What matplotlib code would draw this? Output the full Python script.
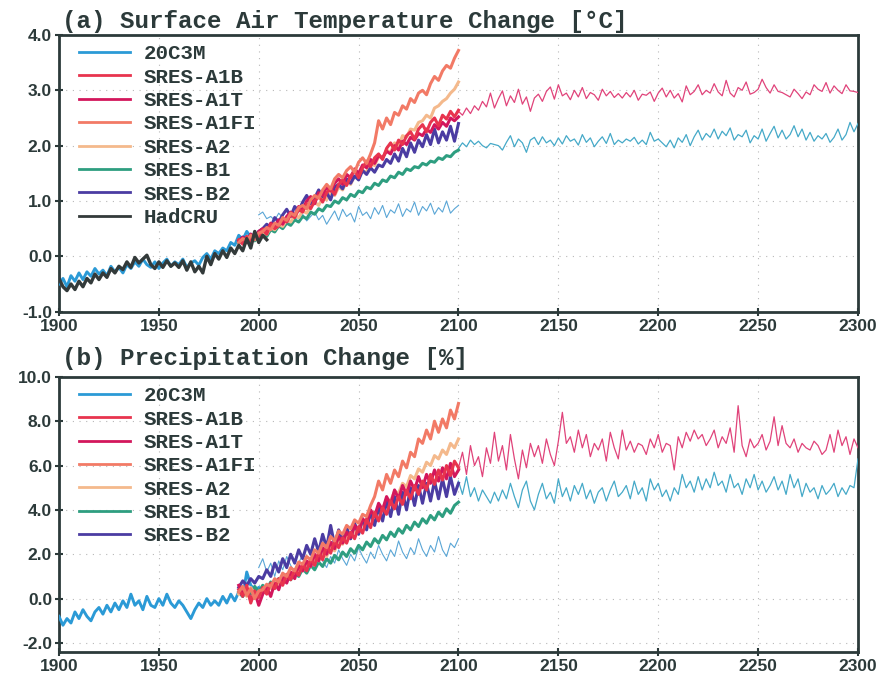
import numpy as np
import matplotlib.pyplot as plt

# ---- data ----
# (a) surface air temperature change [degC]
t_20c3m = [-0.50, -0.40, -0.55, -0.35, -0.45, -0.30, -0.42, -0.28, -0.36, -0.22,
           -0.32, -0.25, -0.35, -0.18, -0.28, -0.20, -0.30, -0.15, -0.22, -0.10,
           -0.18, -0.05, -0.15, -0.20, -0.10, -0.22, -0.12, -0.05, -0.18, -0.10,
           -0.15, -0.05, -0.20, -0.12, -0.08, -0.16, -0.02, 0.05, -0.05, 0.10,
           0.05, 0.15, 0.10, 0.25, 0.20, 0.38, 0.30, 0.45, 0.35, 0.30,
           0.40]
t_hadcru = [-0.40, -0.55, -0.62, -0.50, -0.60, -0.45, -0.55, -0.40, -0.48, -0.32,
            -0.42, -0.30, -0.38, -0.22, -0.30, -0.18, -0.24, -0.10, -0.20, -0.02,
            -0.12, -0.05, 0.02, -0.15, -0.22, -0.10, -0.20, -0.08, -0.18, -0.12,
            -0.20, -0.08, -0.25, -0.10, -0.28, -0.18, -0.30, 0.00, -0.15, 0.05,
            -0.05, 0.10, -0.02, 0.15, 0.05, 0.20, 0.10, 0.32, 0.15, 0.45,
            0.25, 0.38, 0.30]
t_a1b = [0.30, 0.22, 0.36, 0.26, 0.42, 0.35,
         0.48, 0.40, 0.58, 0.50, 0.55, 0.68, 0.62, 0.75, 0.70, 0.85,
         0.80, 0.95, 0.86, 1.00, 1.10, 0.98, 1.15, 1.22, 1.12, 1.30,
         1.38, 1.28, 1.45, 1.55, 1.42, 1.60, 1.72, 1.62, 1.78, 1.85,
         1.75, 1.95, 2.05, 1.92, 2.10, 2.02, 2.18, 2.25, 2.12, 2.30,
         2.38, 2.25, 2.42, 2.50, 2.36, 2.55, 2.48, 2.62, 2.52, 2.64]
t_a1t = [0.28, 0.34, 0.25, 0.40, 0.32, 0.45,
         0.50, 0.44, 0.60, 0.55, 0.66, 0.58, 0.72, 0.80, 0.74, 0.90,
         0.85, 1.00, 1.08, 0.95, 1.15, 1.10, 1.25, 1.18, 1.32, 1.40,
         1.30, 1.48, 1.42, 1.58, 1.50, 1.65, 1.60, 1.75, 1.68, 1.82,
         1.78, 1.90, 1.85, 2.00, 1.92, 2.08, 2.02, 2.15, 2.10, 2.22,
         2.18, 2.30, 2.24, 2.38, 2.30, 2.42, 2.35, 2.50, 2.45, 2.52]
t_a1fi = [0.25, 0.32, 0.28, 0.38, 0.30, 0.42,
          0.45, 0.52, 0.48, 0.60, 0.56, 0.70, 0.65, 0.78, 0.74, 0.88,
          0.92, 0.86, 1.02, 1.10, 1.05, 1.20, 1.30, 1.22, 1.40, 1.48,
          1.42, 1.55, 1.62, 1.52, 1.70, 1.78, 1.68, 1.85, 2.05, 2.45,
          2.30, 2.50, 2.38, 2.60, 2.55, 2.72, 2.66, 2.85, 2.78, 2.95,
          3.00, 2.92, 3.12, 3.25, 3.18, 3.35, 3.45, 3.40, 3.58, 3.72]
t_a2 = [0.26, 0.30, 0.24, 0.36, 0.30, 0.40,
        0.44, 0.40, 0.52, 0.48, 0.58, 0.54, 0.66, 0.62, 0.74, 0.70,
        0.82, 0.78, 0.90, 0.98, 0.92, 1.06, 1.02, 1.15, 1.10, 1.25,
        1.20, 1.35, 1.30, 1.45, 1.42, 1.55, 1.52, 1.68, 1.64, 1.80,
        1.78, 1.92, 1.88, 2.05, 2.00, 2.18, 2.15, 2.30, 2.28, 2.42,
        2.45, 2.55, 2.50, 2.68, 2.72, 2.80, 2.85, 2.95, 3.02, 3.15]
t_b1 = [0.24, 0.30, 0.26, 0.34, 0.28, 0.38,
        0.42, 0.36, 0.48, 0.44, 0.55, 0.50, 0.60, 0.56, 0.66, 0.62,
        0.72, 0.68, 0.80, 0.76, 0.86, 0.82, 0.92, 0.90, 1.00, 0.96,
        1.06, 1.02, 1.12, 1.08, 1.18, 1.15, 1.25, 1.22, 1.32, 1.28,
        1.38, 1.35, 1.45, 1.42, 1.52, 1.48, 1.58, 1.55, 1.62, 1.60,
        1.68, 1.65, 1.72, 1.70, 1.78, 1.75, 1.82, 1.80, 1.88, 1.92]
t_b2 = [0.28, 0.35, 0.30, 0.40, 0.34, 0.45,
        0.50, 0.58, 0.52, 0.70, 0.62, 0.75, 0.85, 0.72, 0.90, 0.82,
        0.98, 1.10, 0.95, 1.05, 1.20, 1.08, 1.15, 1.02, 1.25, 1.30,
        1.22, 1.40, 1.32, 1.45, 1.38, 1.55, 1.48, 1.60, 1.52, 1.65,
        1.62, 1.75, 1.68, 1.85, 1.72, 1.95, 1.80, 2.05, 1.88, 2.10,
        1.98, 2.20, 2.02, 2.30, 2.05, 2.25, 2.10, 2.35, 2.08, 2.40]
t_commit = [0.75, 0.80, 0.68, 0.72, 0.65, 0.78, 0.70, 0.62, 0.74, 0.68,
            0.70, 0.76, 0.64, 0.72, 0.80, 0.66, 0.74, 0.58, 0.70, 0.82,
            0.65, 0.85, 0.72, 0.78, 0.62, 0.90, 0.74, 0.80, 0.68, 0.88,
            0.76, 0.92, 0.70, 0.84, 0.78, 0.95, 0.72, 0.86, 0.80, 0.98,
            0.74, 0.90, 0.82, 0.96, 0.76, 0.88, 0.80, 1.00, 0.78, 0.86,
            0.92]
t_a1b_ext = [2.62, 2.55, 2.68, 2.58, 2.72, 2.64, 2.80, 2.70, 2.95, 2.68, 2.85,
             2.99, 2.72, 2.90, 2.78, 3.02, 2.75, 2.88, 2.62, 2.86, 2.93,
             2.80, 2.98, 3.06, 2.84, 3.10, 2.90, 2.95, 2.83, 3.00, 2.88,
             3.05, 2.85, 2.96, 2.92, 2.82, 3.02, 2.90, 2.98, 2.87, 2.94,
             2.86, 2.96, 2.88, 3.00, 2.82, 2.93, 2.91, 2.97, 2.80, 2.95,
             3.04, 2.88, 3.00, 2.86, 2.94, 2.79, 3.08, 2.92, 2.98, 3.10,
             2.92, 3.00, 2.95, 3.12, 2.97, 2.90, 3.18, 2.95, 2.88, 3.05,
             3.00, 3.15, 2.93, 2.96, 3.02, 3.20, 3.05, 2.95, 3.10, 2.98,
             2.96, 2.92, 2.88, 3.02, 2.94, 2.85, 2.97, 2.92, 3.10, 3.02,
             2.98, 3.14, 2.95, 3.08, 3.00, 2.94, 3.10, 2.99, 2.98, 2.96]
t_b1_ext = [1.95, 2.05, 1.98, 2.10, 2.02, 2.08, 2.00, 1.96, 2.04, 2.02, 2.00,
            1.92, 2.06, 2.18, 1.98, 2.12, 2.05, 1.88, 2.10, 2.15, 2.02,
            2.16, 2.05, 2.10, 2.00, 2.14, 2.03, 2.18, 2.08, 2.12, 2.01,
            2.20, 2.06, 2.14, 1.98, 2.08, 2.16, 2.04, 2.22, 2.02, 2.10,
            2.05, 2.12, 2.08, 2.15, 2.03, 2.10, 2.02, 2.24, 2.08, 2.12,
            2.05, 1.98, 2.10, 1.96, 2.14, 2.06, 2.20, 2.00, 2.16, 2.28,
            2.10, 2.22, 2.15, 2.30, 2.12, 2.26, 2.18, 2.32, 2.10, 2.20,
            2.16, 2.28, 2.05, 2.18, 2.12, 2.30, 2.08, 2.22, 2.35, 2.14,
            2.28, 2.12, 2.20, 2.36, 2.16, 2.30, 2.10, 2.24, 2.08, 2.18,
            2.12, 2.22, 2.06, 2.15, 2.30, 2.10, 2.20, 2.42, 2.25, 2.40]

# (b) precipitation change [%]
p_20c3m = [-0.80, -1.20, -0.90, -1.10, -0.60, -0.90, -0.50, -0.80, -1.00, -0.60,
           -0.40, -0.70, -0.30, -0.60, -0.20, -0.50, -0.10, -0.40, 0.20, -0.30,
           -0.10, -0.50, 0.10, -0.30, -0.40, 0.00, -0.30, 0.20, -0.20, -0.40,
           -0.10, -0.30, -0.60, -0.90, -0.50, -0.20, -0.40, 0.00, -0.30, -0.10,
           -0.30, 0.10, -0.20, 0.20, -0.10, 0.30, 0.10, 1.20, 0.60, 0.40,
           0.50]
p_a1b = [0.40, 0.10, 0.60, -0.20, 0.35, 0.05,
         0.50, 0.20, 0.70, 0.45, 0.90, 0.60, 1.10, 0.85, 1.30, 1.05,
         1.55, 1.25, 1.80, 1.50, 2.10, 1.75, 2.40, 2.05, 2.60, 2.30,
         2.75, 2.50, 3.00, 2.70, 3.25, 2.95, 3.60, 3.20, 3.90, 3.50,
         4.10, 3.80, 4.40, 4.05, 4.60, 4.25, 4.90, 4.50, 5.10, 4.70,
         5.30, 4.90, 5.60, 5.15, 5.80, 5.35, 6.00, 5.55, 6.20, 5.90]
p_a1t = [0.60, 0.20, 0.45, -0.10, 0.30, -0.30,
         0.20, 0.50, 0.10, 0.70, 0.40, 0.95, 0.70, 1.20, 0.90, 1.50,
         1.25, 1.70, 1.45, 2.00, 1.70, 2.30, 2.00, 2.55, 2.25, 2.80,
         2.50, 3.00, 2.75, 3.30, 3.00, 3.60, 3.40, 4.00, 3.70, 4.30,
         4.00, 4.60, 4.25, 4.90, 4.50, 5.10, 4.70, 5.30, 4.90, 5.50,
         5.00, 5.60, 5.20, 5.80, 5.30, 5.90, 5.40, 6.10, 5.50, 5.80]
p_a1fi = [0.30, 0.55, 0.15, 0.45, 0.00, 0.35,
          0.40, 0.65, 0.55, 0.90, 0.75, 1.15, 1.00, 1.40, 1.25, 1.65,
          1.55, 1.90, 1.75, 2.20, 2.05, 2.50, 2.30, 2.80, 2.60, 3.05,
          2.90, 3.30, 3.15, 3.55, 3.40, 3.80, 3.70, 4.20, 4.60, 5.30,
          4.90, 5.60, 5.20, 5.80, 5.50, 6.20, 5.90, 6.60, 6.40, 7.20,
          7.00, 7.60, 7.20, 8.00, 7.50, 8.10, 7.70, 8.50, 8.10, 8.80]
p_a2 = [0.20, 0.40, 0.10, 0.50, 0.20, 0.30,
        0.40, 0.60, 0.45, 0.80, 0.60, 1.00, 0.80, 1.20, 1.00, 1.40,
        1.25, 1.60, 1.45, 1.85, 1.70, 2.10, 1.90, 2.35, 2.15, 2.60,
        2.45, 2.85, 2.70, 3.10, 3.00, 3.45, 3.35, 3.80, 3.70, 4.15,
        4.05, 4.50, 4.40, 4.85, 4.75, 5.20, 5.05, 5.55, 5.40, 5.85,
        5.70, 6.15, 6.00, 6.45, 6.30, 6.70, 6.50, 7.00, 6.80, 7.20]
p_b1 = [0.30, 0.10, 0.45, 0.20, 0.55, 0.30,
        0.60, 0.40, 0.75, 0.55, 0.90, 0.70, 1.05, 0.85, 1.20, 1.00,
        1.35, 1.15, 1.50, 1.30, 1.65, 1.45, 1.80, 1.60, 1.95, 1.75,
        2.10, 1.90, 2.25, 2.05, 2.40, 2.20, 2.55, 2.35, 2.70, 2.50,
        2.85, 2.65, 3.00, 2.80, 3.15, 2.95, 3.30, 3.10, 3.45, 3.25,
        3.60, 3.40, 3.75, 3.55, 3.90, 3.70, 4.05, 3.85, 4.20, 4.35]
p_b2 = [0.50, 0.80, 0.60, 0.90, 0.70, 1.00,
        0.90, 1.30, 1.00, 1.60, 1.20, 1.80, 1.40, 2.00, 1.60, 2.20,
        1.80, 2.40, 2.00, 2.70, 2.10, 2.90, 2.30, 3.30, 2.40, 3.10,
        2.60, 3.20, 2.70, 3.40, 2.90, 3.60, 3.10, 3.90, 3.30, 4.10,
        3.50, 4.40, 3.70, 4.60, 3.80, 4.80, 4.00, 5.00, 4.20, 5.10,
        4.30, 5.20, 4.40, 5.30, 4.50, 5.40, 4.60, 5.50, 4.70, 5.20]
p_commit = [1.40, 1.80, 1.20, 1.60, 1.00, 1.70, 1.30, 1.90, 1.50, 1.20,
            1.60, 2.00, 1.40, 1.80, 1.50, 2.10, 1.70, 1.40, 1.90, 1.60,
            2.20, 1.80, 1.50, 2.00, 1.70, 2.30, 1.90, 1.60, 2.10, 1.80,
            2.40, 2.00, 1.70, 2.20, 1.90, 2.60, 2.10, 1.80, 2.30, 2.00,
            2.70, 2.20, 1.90, 2.40, 2.10, 2.80, 2.20, 1.90, 2.50, 2.30,
            2.70]
p_a1b_ext = [5.90, 6.60, 5.60, 6.90, 6.00, 6.40, 5.50, 6.80, 6.10, 7.50, 6.20,
             6.90, 5.80, 7.40, 6.30, 5.40, 6.70, 5.90, 7.00, 6.40, 6.90,
             6.10, 7.20, 6.50, 6.00, 7.10, 8.40, 7.00, 7.30, 6.60, 7.60,
             6.80, 7.40, 6.40, 7.00, 6.70, 7.20, 6.20, 7.50, 6.80, 6.30,
             7.60, 6.70, 7.10, 6.60, 7.00, 6.90, 6.50, 7.20, 6.80, 7.40,
             6.60, 7.00, 6.90, 5.80, 7.30, 6.80, 7.50, 7.10, 7.60, 7.20,
             7.40, 6.90, 7.20, 7.60, 6.80, 7.30, 7.00, 7.70, 6.60, 8.70,
             6.90, 6.40, 7.20, 6.80, 7.00, 7.40, 6.70, 7.10, 8.20, 6.90,
             7.80, 7.00, 6.80, 7.20, 6.60, 7.00, 6.80, 6.70, 7.10, 6.90,
             6.50, 6.70, 7.40, 6.60, 7.60, 6.90, 7.30, 6.50, 7.20, 6.80]
p_b1_ext = [5.30, 4.70, 5.50, 4.60, 5.00, 4.40, 4.90, 4.60, 4.30, 4.80, 4.40,
            4.90, 4.50, 5.20, 4.60, 4.10, 4.90, 5.30, 4.40, 4.00, 4.70,
            5.20, 4.50, 4.80, 4.30, 5.40, 4.60, 5.00, 4.40, 5.10, 4.70,
            5.20, 4.50, 4.90, 4.30, 4.80, 5.00, 4.40, 4.90, 5.30, 4.60,
            4.80, 5.10, 4.50, 5.30, 4.70, 5.00, 4.40, 5.40, 4.90, 5.20,
            4.60, 4.90, 4.40, 5.00, 4.70, 5.60, 5.00, 5.30, 4.80, 5.50,
            4.90, 5.40, 5.00, 5.70, 5.10, 5.30, 4.80, 5.60, 5.00, 5.20,
            4.70, 5.40, 5.00, 5.60, 4.90, 5.30, 4.80, 5.10, 5.50, 4.90,
            5.30, 4.70, 5.60, 5.00, 5.40, 4.60, 5.20, 4.80, 5.00, 4.50,
            5.10, 4.70, 4.90, 5.20, 4.60, 5.00, 4.70, 5.10, 5.00, 6.30]

scen_names = ['SRES-A1B', 'SRES-A1T', 'SRES-A1FI', 'SRES-A2', 'SRES-B1', 'SRES-B2']
scen_colors = ['#e8344e', '#d3175c', '#f27a66', '#f4b98c', '#2e9e80', '#4b3ca2']
t_scen = [t_a1b, t_a1t, t_a1fi, t_a2, t_b1, t_b2]
p_scen = [p_a1b, p_a1t, p_a1fi, p_a2, p_b1, p_b2]
draw_order = [4, 3, 5, 1, 0, 2]   # B1, A2, B2, A1T, A1B, A1FI

ink = '#2c3a3a'
c20 = '#2b9ad6'


def yrs(start, vals):
    # one value every two years
    return np.arange(start, start + 2 * len(vals), 2)


def draw_panel(ax, hist, scen, commit, a1b_ext, b1_ext, obs=None):
    h = {}
    h['20C3M'], = ax.plot(yrs(1900, hist), hist, color=c20, lw=2.1, zorder=3)
    ax.plot(yrs(2000, commit), commit, color='#5aa6d6', lw=0.8, zorder=2)
    for i in draw_order:
        h[scen_names[i]], = ax.plot(yrs(1990, scen[i]), scen[i], color=scen_colors[i],
                                    lw=2.2, zorder=4 + draw_order.index(i))
    ax.plot(yrs(2100, a1b_ext), a1b_ext, color='#e0437a', lw=0.9, zorder=3)
    ax.plot(yrs(2100, b1_ext), b1_ext, color='#45a9c8', lw=0.9, zorder=3)
    if obs is not None:
        h['HadCRU'], = ax.plot(yrs(1900, obs), obs, color='#333a3a', lw=2.4, zorder=11)
    names = ['20C3M'] + scen_names + (['HadCRU'] if obs is not None else [])
    leg = ax.legend([h[n] for n in names], names, loc='upper left', frameon=False,
                    prop={'family': 'Liberation Mono', 'weight': 'bold', 'size': 15},
                    handlelength=2.45, handletextpad=0.65, labelspacing=0.21,
                    borderaxespad=0.05, bbox_to_anchor=(0.013, 1.0))
    for t in leg.get_texts():
        t.set_color(ink)
    for ln in leg.get_lines():
        ln.set_linewidth(2.0)

    ax.set_xlim(1900, 2300)
    ax.set_xticks(np.arange(1900, 2301, 50))
    ax.grid(True, color='#b8b8b8', linestyle=(0, (1, 5)), linewidth=0.8)
    for s in ax.spines.values():
        s.set_color(ink)
        s.set_linewidth(2.0)
    ax.tick_params(direction='inout', length=6, width=1.5, color=ink, labelcolor=ink,
                   labelsize=12.5, pad=2)
    for lab in ax.get_xticklabels() + ax.get_yticklabels():
        lab.set_fontfamily('Liberation Sans')
        lab.set_fontweight('bold')


fig = plt.figure(figsize=(8.79, 6.79), dpi=100)
ax1 = fig.add_axes([0.0671, 0.541, 0.909, 0.4075])
ax2 = fig.add_axes([0.0671, 0.040, 0.909, 0.405])

ax1.set_ylim(-1.0, 4.0)
ax1.set_yticks(np.arange(-1.0, 4.01, 1.0))
ax1.set_yticklabels(['%.1f' % v for v in np.arange(-1.0, 4.01, 1.0)])
draw_panel(ax1, t_20c3m, t_scen, t_commit, t_a1b_ext, t_b1_ext, obs=t_hadcru)
ax1.text(0.004, 1.024, '(a) Surface Air Temperature Change [°C]', transform=ax1.transAxes,
         family='Liberation Mono', weight='bold', size=17.5, color=ink, va='baseline')

ax2.set_ylim(-2.4, 10.0)
ax2.set_yticks(np.arange(-2.0, 10.01, 2.0))
ax2.set_yticklabels(['%.1f' % v for v in np.arange(-2.0, 10.01, 2.0)])
draw_panel(ax2, p_20c3m, p_scen, p_commit, p_a1b_ext, p_b1_ext)
ax2.text(0.004, 1.042, '(b) Precipitation Change [%]', transform=ax2.transAxes,
         family='Liberation Mono', weight='bold', size=17.5, color=ink, va='baseline')

fig.savefig('out.png', dpi=100)
